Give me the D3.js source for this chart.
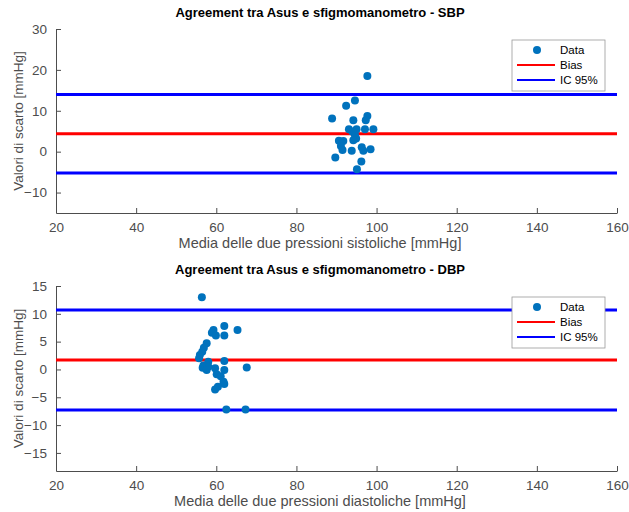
<!DOCTYPE html>
<html>
<head>
<meta charset="utf-8">
<script src="https://cdn.jsdelivr.net/npm/d3@7"></script>
<style>
  body { margin: 0; background: #fff; }
  svg { display: block; font-family: "Liberation Sans", Arial, Helvetica, sans-serif; }
</style>
</head>
<body>
<svg id="chart" width="629" height="512"></svg>
<script>
// Bland-Altman data: mean of the two readings (x) vs. difference (y)
const sbpMean = [97.7, 94.6, 92.4, 88.9, 97.7, 97.3, 94.2, 93.1, 95.0, 97.1, 99.2, 94.0, 94.6,
                 94.9, 94.2, 90.6, 91.7, 91.1, 91.5, 93.8, 96.3, 96.7, 98.5, 89.7, 96.2, 95.1];
const sbpDiff = [18.5, 12.5, 11.2, 8.1, 8.7, 7.7, 7.7, 5.5, 5.5, 5.5, 5.5, 4.9, 4.05,
                 3.2, 2.8, 2.7, 2.6, 1.4, 0.4, 0.25, 1.1, 0.25, 0.6, -1.4, -2.4, -4.3];
const sbpBias = 4.4, sbpLow = -5.2, sbpHigh = 14.0;

const dbpMean = [56.4, 62.0, 65.3, 59.3, 58.9, 59.9, 62.0, 57.6, 56.9, 56.5, 55.9, 55.7, 62.0, 58.0,
                 56.8, 58.0, 67.6, 56.6, 62.0, 59.7, 57.6, 60.1, 61.1, 61.8, 62.0, 60.4, 59.7, 62.5, 67.3];
const dbpDiff = [13.0, 7.8, 7.1, 7.1, 6.6, 6.1, 6.1, 4.7, 3.9, 3.2, 2.6, 2.0, 1.5, 1.4,
                 0.7, 0.5, 0.35, 0.3, -0.1, 0.2, -0.1, -0.85, -1.2, -2.2, -2.6, -3.1, -3.6, -7.2, -7.2];
const dbpBias = 1.7, dbpLow = -7.3, dbpHigh = 10.7;

const xTicks = [20, 40, 60, 80, 100, 120, 140, 160];
const sbpTicks = [-10, 0, 10, 20, 30];
const dbpTicks = [-15, -10, -5, 0, 5, 10, 15];
const legendLabels = ["Data", "Bias", "IC 95%"];

const svg = d3.select("#chart");
const axisColor = "#4d4d4d";
const labelCenter = 320;

function panel(opts) {
  const x = d3.scaleLinear().domain([20, 160]).range([56, 617]);
  const y = d3.scaleLinear().domain(opts.yDomain).range([opts.bottom, opts.top]);
  const g = svg.append("g");

  // title
  g.append("text").attr("x", labelCenter).attr("y", opts.top - 12)
    .attr("text-anchor", "middle").attr("font-size", 13).attr("font-weight", "bold")
    .attr("fill", "#000").text(opts.title);

  // axes
  const xAxis = d3.axisBottom(x).tickValues(xTicks).tickSizeInner(-5).tickSizeOuter(0).tickPadding(9);
  const gx = g.append("g").attr("transform", `translate(0,${opts.bottom})`).call(xAxis);
  const yAxis = d3.axisLeft(y).tickValues(opts.yTicks).tickSizeInner(-5).tickSizeOuter(0).tickPadding(9);
  const gy = g.append("g").attr("transform", `translate(56,0)`).call(yAxis);
  [gx, gy].forEach(a => {
    a.select(".domain").attr("stroke", axisColor).attr("stroke-width", 1);
    a.selectAll(".tick line").attr("stroke", axisColor);
    a.selectAll(".tick text").attr("fill", axisColor).attr("font-size", 13.5)
      .attr("font-family", "Liberation Sans, Arial, sans-serif");
  });

  // axis labels
  g.append("text").attr("x", labelCenter).attr("y", opts.bottom + 35)
    .attr("text-anchor", "middle").attr("font-size", 14.5).attr("fill", axisColor).text(opts.xLabel);
  g.append("text").attr("transform", `translate(23,${(opts.top + opts.bottom) / 2}) rotate(-90)`)
    .attr("text-anchor", "middle").attr("font-size", 13.5).attr("fill", axisColor)
    .text("Valori di scarto [mmHg]");

  // reference lines
  const lines = [
    { v: opts.bias, c: "#ff0000" },
    { v: opts.high, c: "#0000ff" },
    { v: opts.low, c: "#0000ff" }
  ];
  g.selectAll("line.ref").data(lines).enter().append("line")
    .attr("x1", x(20)).attr("x2", x(160))
    .attr("y1", d => y(d.v)).attr("y2", d => y(d.v))
    .attr("stroke", d => d.c).attr("stroke-width", 3);

  // points
  g.selectAll("circle.pt").data(opts.xs.map((v, i) => [v, opts.ys[i]])).enter().append("circle")
    .attr("cx", d => x(d[0])).attr("cy", d => y(d[1])).attr("r", 4)
    .attr("fill", "#0072bd");

  // legend
  const lg = g.append("g").attr("transform", `translate(512,${opts.top + 11})`);
  lg.append("rect").attr("width", 93).attr("height", 51)
    .attr("fill", "#fff").attr("stroke", "#999").attr("stroke-width", 0.8);
  legendLabels.forEach((t, i) => {
    const yy = 10 + i * 15;
    if (i === 0) {
      lg.append("circle").attr("cx", 25).attr("cy", yy).attr("r", 4).attr("fill", "#0072bd");
    } else {
      lg.append("line").attr("x1", 5).attr("x2", 43).attr("y1", yy).attr("y2", yy)
        .attr("stroke", i === 1 ? "#ff0000" : "#0000ff").attr("stroke-width", 2);
    }
    lg.append("text").attr("x", 48).attr("y", yy + 4).attr("font-size", 11.5)
      .attr("fill", "#000").text(t);
  });
}

panel({
  title: "Agreement tra Asus e sfigmomanometro - SBP",
  xLabel: "Media delle due pressioni sistoliche [mmHg]",
  top: 29, bottom: 213, yDomain: [-15, 30], yTicks: sbpTicks,
  xs: sbpMean, ys: sbpDiff, bias: sbpBias, low: sbpLow, high: sbpHigh
});

panel({
  title: "Agreement tra Asus e sfigmomanometro - DBP",
  xLabel: "Media delle due pressioni diastoliche [mmHg]",
  top: 286, bottom: 471, yDomain: [-18.25, 15], yTicks: dbpTicks,
  xs: dbpMean, ys: dbpDiff, bias: dbpBias, low: dbpLow, high: dbpHigh
});
</script>
</body>
</html>
